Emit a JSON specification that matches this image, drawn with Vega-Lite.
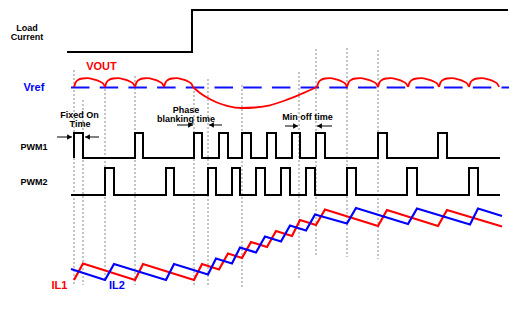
{
  "$schema": "https://vega.github.io/schema/vega-lite/v6.json",
  "width": 516,
  "height": 309,
  "autosize": {"type": "fit", "contains": "padding"},
  "padding": 0,
  "background": "white",
  "config": {"view": {"stroke": null}},
  "datasets": {
    "vlines": [
      {"x": 74, "y": 70, "y2": 285},
      {"x": 83, "y": 100, "y2": 285},
      {"x": 105, "y": 85, "y2": 280},
      {"x": 135, "y": 76, "y2": 285},
      {"x": 194, "y": 87, "y2": 287},
      {"x": 208, "y": 79, "y2": 287},
      {"x": 242, "y": 85, "y2": 287},
      {"x": 299, "y": 72, "y2": 280},
      {"x": 316, "y": 49, "y2": 257},
      {"x": 347, "y": 48, "y2": 257},
      {"x": 378, "y": 50, "y2": 259}
    ],
    "vref": [{"x": 71, "x2": 509, "y": 87.5}],
    "steps": [
      {"s": "Load", "i": 0, "x": 67, "y": 52},
      {"s": "Load", "i": 1, "x": 192, "y": 10},
      {"s": "Load", "i": 2, "x": 508, "y": 10},
      {"s": "PWM1", "i": 0, "x": 74, "y": 158},
      {"s": "PWM1", "i": 1, "x": 74, "y": 133},
      {"s": "PWM1", "i": 2, "x": 83, "y": 158},
      {"s": "PWM1", "i": 3, "x": 135, "y": 133},
      {"s": "PWM1", "i": 4, "x": 143, "y": 158},
      {"s": "PWM1", "i": 5, "x": 194, "y": 133},
      {"s": "PWM1", "i": 6, "x": 202, "y": 158},
      {"s": "PWM1", "i": 7, "x": 219, "y": 133},
      {"s": "PWM1", "i": 8, "x": 228, "y": 158},
      {"s": "PWM1", "i": 9, "x": 242, "y": 133},
      {"s": "PWM1", "i": 10, "x": 251, "y": 158},
      {"s": "PWM1", "i": 11, "x": 267, "y": 133},
      {"s": "PWM1", "i": 12, "x": 276, "y": 158},
      {"s": "PWM1", "i": 13, "x": 292, "y": 133},
      {"s": "PWM1", "i": 14, "x": 300, "y": 158},
      {"s": "PWM1", "i": 15, "x": 316, "y": 133},
      {"s": "PWM1", "i": 16, "x": 325, "y": 158},
      {"s": "PWM1", "i": 17, "x": 378, "y": 133},
      {"s": "PWM1", "i": 18, "x": 387, "y": 158},
      {"s": "PWM1", "i": 19, "x": 438, "y": 133},
      {"s": "PWM1", "i": 20, "x": 447, "y": 158},
      {"s": "PWM1", "i": 21, "x": 500, "y": 158},
      {"s": "PWM2", "i": 0, "x": 71, "y": 195},
      {"s": "PWM2", "i": 1, "x": 105, "y": 168},
      {"s": "PWM2", "i": 2, "x": 114, "y": 195},
      {"s": "PWM2", "i": 3, "x": 166, "y": 168},
      {"s": "PWM2", "i": 4, "x": 174, "y": 195},
      {"s": "PWM2", "i": 5, "x": 208, "y": 168},
      {"s": "PWM2", "i": 6, "x": 216, "y": 195},
      {"s": "PWM2", "i": 7, "x": 232, "y": 168},
      {"s": "PWM2", "i": 8, "x": 240, "y": 195},
      {"s": "PWM2", "i": 9, "x": 256, "y": 168},
      {"s": "PWM2", "i": 10, "x": 265, "y": 195},
      {"s": "PWM2", "i": 11, "x": 281, "y": 168},
      {"s": "PWM2", "i": 12, "x": 290, "y": 195},
      {"s": "PWM2", "i": 13, "x": 306, "y": 168},
      {"s": "PWM2", "i": 14, "x": 315, "y": 195},
      {"s": "PWM2", "i": 15, "x": 347, "y": 168},
      {"s": "PWM2", "i": 16, "x": 356, "y": 195},
      {"s": "PWM2", "i": 17, "x": 407, "y": 168},
      {"s": "PWM2", "i": 18, "x": 417, "y": 195},
      {"s": "PWM2", "i": 19, "x": 469, "y": 168},
      {"s": "PWM2", "i": 20, "x": 478, "y": 195},
      {"s": "PWM2", "i": 21, "x": 500, "y": 195}
    ],
    "il": [
      {"s": "IL1", "x": 74, "y": 280},
      {"s": "IL1", "x": 83, "y": 263.5},
      {"s": "IL1", "x": 135, "y": 280},
      {"s": "IL1", "x": 143, "y": 264},
      {"s": "IL1", "x": 194, "y": 280},
      {"s": "IL1", "x": 202, "y": 264},
      {"s": "IL1", "x": 219, "y": 269.5},
      {"s": "IL1", "x": 228, "y": 253.5},
      {"s": "IL1", "x": 242, "y": 258},
      {"s": "IL1", "x": 251, "y": 242},
      {"s": "IL1", "x": 267, "y": 247},
      {"s": "IL1", "x": 276, "y": 231},
      {"s": "IL1", "x": 292, "y": 236},
      {"s": "IL1", "x": 300, "y": 220},
      {"s": "IL1", "x": 316, "y": 225},
      {"s": "IL1", "x": 325, "y": 209.5},
      {"s": "IL1", "x": 378, "y": 226},
      {"s": "IL1", "x": 387, "y": 210},
      {"s": "IL1", "x": 438, "y": 226},
      {"s": "IL1", "x": 447, "y": 210},
      {"s": "IL1", "x": 502, "y": 226.5},
      {"s": "IL2", "x": 71, "y": 269},
      {"s": "IL2", "x": 105, "y": 280},
      {"s": "IL2", "x": 114, "y": 264},
      {"s": "IL2", "x": 166, "y": 280},
      {"s": "IL2", "x": 174, "y": 264},
      {"s": "IL2", "x": 208, "y": 274.5},
      {"s": "IL2", "x": 216, "y": 258.5},
      {"s": "IL2", "x": 232, "y": 263.5},
      {"s": "IL2", "x": 240, "y": 247.5},
      {"s": "IL2", "x": 256, "y": 252.5},
      {"s": "IL2", "x": 265, "y": 236.5},
      {"s": "IL2", "x": 281, "y": 241.5},
      {"s": "IL2", "x": 290, "y": 225.5},
      {"s": "IL2", "x": 306, "y": 230.5},
      {"s": "IL2", "x": 315, "y": 214.5},
      {"s": "IL2", "x": 347, "y": 223.5},
      {"s": "IL2", "x": 356, "y": 208},
      {"s": "IL2", "x": 408, "y": 224},
      {"s": "IL2", "x": 417, "y": 208.5},
      {"s": "IL2", "x": 470, "y": 224.5},
      {"s": "IL2", "x": 478, "y": 208.5},
      {"s": "IL2", "x": 502, "y": 216}
    ],
    "vout": [
      {"g": 1, "x": 74, "y": 87}, {"g": 1, "x": 75.6, "y": 82.5}, {"g": 1, "x": 78, "y": 80}, {"g": 1, "x": 82.4, "y": 78.5}, {"g": 1, "x": 87.3, "y": 78.2}, {"g": 1, "x": 93.5, "y": 79.3}, {"g": 1, "x": 99.7, "y": 81.5}, {"g": 1, "x": 103.5, "y": 84}, {"g": 1, "x": 105, "y": 87},
      {"g": 2, "x": 105, "y": 87}, {"g": 2, "x": 106.5, "y": 82.5}, {"g": 2, "x": 108.9, "y": 80}, {"g": 2, "x": 113.1, "y": 78.5}, {"g": 2, "x": 117.9, "y": 78.2}, {"g": 2, "x": 123.9, "y": 79.3}, {"g": 2, "x": 129.9, "y": 81.5}, {"g": 2, "x": 133.5, "y": 84}, {"g": 2, "x": 135, "y": 87},
      {"g": 3, "x": 135, "y": 87}, {"g": 3, "x": 136.5, "y": 82.5}, {"g": 3, "x": 138.8, "y": 80}, {"g": 3, "x": 142.8, "y": 78.5}, {"g": 3, "x": 147.5, "y": 78.2}, {"g": 3, "x": 153.3, "y": 79.3}, {"g": 3, "x": 159.1, "y": 81.5}, {"g": 3, "x": 162.6, "y": 84}, {"g": 3, "x": 164, "y": 87},
      {"g": 4, "x": 164, "y": 87}, {"g": 4, "x": 165.5, "y": 82.5}, {"g": 4, "x": 167.8, "y": 80}, {"g": 4, "x": 171.8, "y": 78.5}, {"g": 4, "x": 176.5, "y": 78.2}, {"g": 4, "x": 182.3, "y": 79.3}, {"g": 4, "x": 188.1, "y": 81.5}, {"g": 4, "x": 191.6, "y": 84}, {"g": 4, "x": 193, "y": 87},
      {"g": 5, "x": 193, "y": 87}, {"g": 5, "x": 200, "y": 93}, {"g": 5, "x": 207, "y": 97.5}, {"g": 5, "x": 217, "y": 102.5}, {"g": 5, "x": 227, "y": 105.8}, {"g": 5, "x": 242, "y": 108}, {"g": 5, "x": 255, "y": 107.5}, {"g": 5, "x": 270, "y": 105.3}, {"g": 5, "x": 285, "y": 100.5}, {"g": 5, "x": 300, "y": 94.5}, {"g": 5, "x": 317, "y": 87},
      {"g": 6, "x": 317, "y": 87}, {"g": 6, "x": 318.5, "y": 82.5}, {"g": 6, "x": 320.9, "y": 80}, {"g": 6, "x": 325.1, "y": 78.5}, {"g": 6, "x": 329.9, "y": 78.2}, {"g": 6, "x": 335.9, "y": 79.3}, {"g": 6, "x": 341.9, "y": 81.5}, {"g": 6, "x": 345.5, "y": 84}, {"g": 6, "x": 347, "y": 87},
      {"g": 7, "x": 347, "y": 87}, {"g": 7, "x": 348.6, "y": 82.5}, {"g": 7, "x": 351, "y": 80}, {"g": 7, "x": 355.4, "y": 78.5}, {"g": 7, "x": 360.3, "y": 78.2}, {"g": 7, "x": 366.5, "y": 79.3}, {"g": 7, "x": 372.7, "y": 81.5}, {"g": 7, "x": 376.5, "y": 84}, {"g": 7, "x": 378, "y": 87},
      {"g": 8, "x": 378, "y": 87}, {"g": 8, "x": 379.5, "y": 82.5}, {"g": 8, "x": 381.9, "y": 80}, {"g": 8, "x": 386.1, "y": 78.5}, {"g": 8, "x": 390.9, "y": 78.2}, {"g": 8, "x": 396.9, "y": 79.3}, {"g": 8, "x": 402.9, "y": 81.5}, {"g": 8, "x": 406.5, "y": 84}, {"g": 8, "x": 408, "y": 87},
      {"g": 9, "x": 408, "y": 87}, {"g": 9, "x": 409.6, "y": 82.5}, {"g": 9, "x": 412, "y": 80}, {"g": 9, "x": 416.4, "y": 78.5}, {"g": 9, "x": 421.3, "y": 78.2}, {"g": 9, "x": 427.5, "y": 79.3}, {"g": 9, "x": 433.7, "y": 81.5}, {"g": 9, "x": 437.5, "y": 84}, {"g": 9, "x": 439, "y": 87},
      {"g": 10, "x": 439, "y": 87}, {"g": 10, "x": 440.5, "y": 82.5}, {"g": 10, "x": 442.9, "y": 80}, {"g": 10, "x": 447.1, "y": 78.5}, {"g": 10, "x": 451.9, "y": 78.2}, {"g": 10, "x": 457.9, "y": 79.3}, {"g": 10, "x": 463.9, "y": 81.5}, {"g": 10, "x": 467.5, "y": 84}, {"g": 10, "x": 469, "y": 87},
      {"g": 11, "x": 469, "y": 87}, {"g": 11, "x": 470.5, "y": 82.5}, {"g": 11, "x": 472.9, "y": 80}, {"g": 11, "x": 477.1, "y": 78.5}, {"g": 11, "x": 481.9, "y": 78.2}, {"g": 11, "x": 487.9, "y": 79.3}, {"g": 11, "x": 493.9, "y": 81.5}, {"g": 11, "x": 497.5, "y": 84}, {"g": 11, "x": 499, "y": 87}
    ],
    "arrows": [
      {"x": 57, "x2": 72, "y": 137, "d": "r"},
      {"x": 99, "x2": 85, "y": 137, "d": "l"},
      {"x": 177, "x2": 193, "y": 125, "d": "r"},
      {"x": 222, "x2": 209, "y": 125, "d": "l"},
      {"x": 285, "x2": 298, "y": 126, "d": "r"},
      {"x": 332, "x2": 317, "y": 126, "d": "l"}
    ],
    "labels": [
      {"t": "Load", "x": 27, "y": 27.5, "g": "k"},
      {"t": "Current", "x": 27, "y": 37, "g": "k"},
      {"t": "Fixed On", "x": 79.5, "y": 114.5, "g": "k"},
      {"t": "Time", "x": 80, "y": 124, "g": "k"},
      {"t": "PWM1", "x": 34, "y": 147, "g": "k"},
      {"t": "PWM2", "x": 34, "y": 182, "g": "k"},
      {"t": "Phase", "x": 186, "y": 109.5, "g": "k"},
      {"t": "blanking time", "x": 186, "y": 119, "g": "k"},
      {"t": "Min off time", "x": 307.5, "y": 117, "g": "k"},
      {"t": "VOUT", "x": 101.5, "y": 67, "g": "r"},
      {"t": "IL1", "x": 59.5, "y": 286, "g": "r"},
      {"t": "Vref", "x": 34, "y": 87.5, "g": "b"},
      {"t": "IL2", "x": 117, "y": 286, "g": "b"}
    ]
  },
  "encoding": {
    "x": {"field": "x", "type": "quantitative", "scale": {"domain": [0, 516], "nice": false, "zero": false}, "axis": null},
    "y": {"field": "y", "type": "quantitative", "scale": {"domain": [0, 309], "nice": false, "zero": false, "reverse": true}, "axis": null}
  },
  "layer": [
    {
      "data": {"name": "vlines"},
      "mark": {"type": "rule", "color": "#8a8a8a", "strokeWidth": 1, "strokeDash": [2, 2]},
      "encoding": {"y2": {"field": "y2"}}
    },
    {
      "data": {"name": "vref"},
      "mark": {"type": "rule", "color": "#1010ff", "strokeWidth": 2, "strokeDash": [18.5, 10.2]},
      "encoding": {"x2": {"field": "x2"}}
    },
    {
      "data": {"name": "steps"},
      "mark": {"type": "line", "interpolate": "step-after", "color": "black", "strokeWidth": 2},
      "encoding": {"detail": {"field": "s"}, "order": {"field": "i", "type": "quantitative"}}
    },
    {
      "data": {"name": "il"},
      "mark": {"type": "line", "strokeWidth": 2.2},
      "encoding": {
        "color": {"field": "s", "type": "nominal", "scale": {"domain": ["IL1", "IL2"], "range": ["#ff0000", "#0000ff"]}, "legend": null}
      }
    },
    {
      "data": {"name": "vout"},
      "mark": {"type": "line", "interpolate": "monotone", "color": "#ff0000", "strokeWidth": 1.8},
      "encoding": {"detail": {"field": "g"}}
    },
    {
      "data": {"name": "arrows"},
      "mark": {"type": "rule", "color": "black", "strokeWidth": 1},
      "encoding": {"x2": {"field": "x2"}}
    },
    {
      "data": {"name": "arrows"},
      "transform": [{"filter": "datum.d == 'r'"}],
      "mark": {"type": "point", "shape": "triangle-right", "filled": true, "color": "black", "size": 30, "opacity": 1, "xOffset": -2.5},
      "encoding": {"x": {"field": "x2", "type": "quantitative"}}
    },
    {
      "data": {"name": "arrows"},
      "transform": [{"filter": "datum.d == 'l'"}],
      "mark": {"type": "point", "shape": "triangle-left", "filled": true, "color": "black", "size": 30, "opacity": 1, "xOffset": 2.5},
      "encoding": {"x": {"field": "x2", "type": "quantitative"}}
    },
    {
      "data": {"name": "labels"},
      "transform": [{"filter": "datum.g == 'k'"}],
      "mark": {"type": "text", "font": "Liberation Sans", "fontWeight": "bold", "fontSize": 9, "color": "black", "align": "center", "baseline": "middle"},
      "encoding": {"text": {"field": "t"}}
    },
    {
      "data": {"name": "labels"},
      "transform": [{"filter": "datum.g == 'r'"}],
      "mark": {"type": "text", "font": "Liberation Sans", "fontWeight": "bold", "fontSize": 11, "color": "#ff0000", "align": "center", "baseline": "middle"},
      "encoding": {"text": {"field": "t"}}
    },
    {
      "data": {"name": "labels"},
      "transform": [{"filter": "datum.g == 'b'"}],
      "mark": {"type": "text", "font": "Liberation Sans", "fontWeight": "bold", "fontSize": 11, "color": "#0000ff", "align": "center", "baseline": "middle"},
      "encoding": {"text": {"field": "t"}}
    }
  ]
}
